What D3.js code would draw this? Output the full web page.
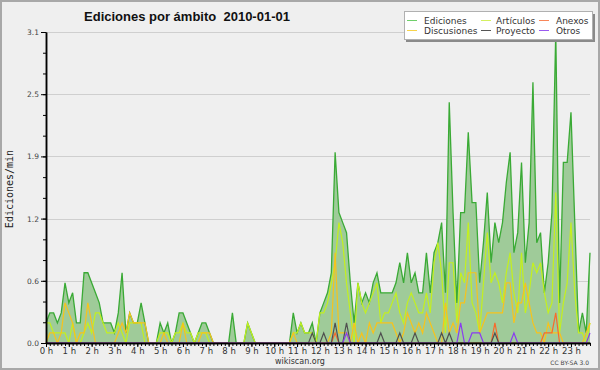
<!DOCTYPE html>
<html>
<head>
<meta charset="utf-8">
<script src="https://cdn.jsdelivr.net/npm/d3@7"></script>
<style>
  body { margin: 0; background: #efefef; }
  svg { display: block; }
</style>
</head>
<body>
<div id="chart"></div>
<script>
var width = 600,
    height = 370;

// 10-minute bins, 0h .. 23h50
var hourLabels = d3.range(24).map(function (h) { return h + " h"; });

var ediciones = [
    0.2,0.3,0.3,0.2,0.3,0.6,0.4,0.5,0.2,0.2,
    0.7,0.7,0.6,0.5,0.4,0.2,0.2,0.2,0.1,0.3,
    0.7,0.1,0.3,0.2,0.2,0.4,0.2,0,0,0,
    0.2,0.1,0.2,0,0.1,0.3,0.3,0.2,0.1,0,
    0.1,0.2,0.2,0.1,0,0,0,0,0,0.3,
    0,0,0,0.2,0.1,0,0,0,0,0,
    0,0,0,0,0,0.3,0.1,0.2,0.1,0.1,
    0.2,0,0.3,0.4,0.5,0.7,1.9,1.3,1.2,1.1,
    0.6,0.2,0.6,0.4,0.5,0.4,0.6,0.7,0.5,0.5,
    0.5,0.5,0.6,0.8,0.6,0.9,0.6,0.7,0.5,0.5,
    0.9,0.5,0.9,1.0,1.2,0.5,2.4,1.3,0.4,1.3,
    1.3,2.1,1.4,1.4,0.6,1.0,1.5,0.8,1.2,1.0,
    1.2,1.6,1.9,0.9,1.1,1.8,0.8,1.2,2.6,1.0,
    1.1,0.5,0.8,1.3,3.1,0.4,1.8,1.8,2.3,1.2,
    0.1,0.3,0.1,0.9
];

var articulos = [
    0.2,0.2,0.1,0.1,0.1,0.1,0,0.2,0,0,
    0.1,0.2,0.1,0.3,0.3,0.2,0.1,0.1,0.1,0.2,
    0.1,0,0.2,0.2,0.2,0.2,0,0,0,0,
    0.1,0.1,0.1,0,0.1,0.1,0.2,0.1,0.1,0,
    0.1,0.1,0.1,0,0,0,0,0,0,0,
    0,0,0,0.2,0.1,0,0,0,0,0,
    0,0,0,0,0,0.1,0.1,0.2,0.1,0.1,
    0.1,0,0.3,0.3,0.4,0.6,0.8,1.2,1.0,0.6,
    0.3,0,0.6,0.4,0.3,0.4,0.5,0.6,0.2,0.3,
    0.3,0.4,0.5,0.3,0.2,0.4,0.5,0.4,0.3,0.3,
    0.5,0.3,0.8,1.0,0.7,0.1,0.8,0.8,0.2,0.7,
    0.6,1.2,0.4,0.3,0.1,0.6,1.1,0.6,0.7,0.6,
    0.4,0.7,0.9,0.5,0.3,0.9,0.3,0.5,0.8,0.7,
    0.8,0.5,0.3,0.4,1.5,0.1,0.4,0.6,1.2,0.5,
    0.1,0.1,0,0.2
];

var discusiones = [
    0,0.1,0.1,0,0.1,0.4,0.3,0.2,0,0.1,
    0.1,0.4,0.2,0,0,0,0,0,0,0.1,
    0.2,0.1,0.3,0.2,0.2,0.2,0.2,0,0,0,
    0,0.1,0,0,0,0,0.2,0,0,0,
    0,0.1,0.1,0.1,0,0,0,0,0,0,
    0,0,0,0,0,0,0,0,0,0,
    0,0,0,0,0,0.1,0,0,0,0,
    0,0,0,0,0,0.1,0.9,0.1,0.1,0.1,
    0,0.2,0,0.1,0,0.2,0.1,0.2,0.2,0.2,
    0.2,0.2,0.1,0,0.1,0.3,0.2,0.1,0.2,0.1,
    0.3,0.2,0.1,0,0,0.4,0.1,0.2,0.1,0.4,
    0.4,0.7,0.7,0.7,0.1,0.2,0.3,0.3,0.3,0.3,
    0.3,0.6,0.6,0.2,0.4,0.4,0.6,0.4,0.2,0.1,
    0.1,0,0.2,0.1,0.1,0.1,0,0,0,0,
    0,0,0.1,0.2
];

// sparse series: bin index -> value, zero elsewhere
var anexosBins = [76, 118, 131, 132, 133, 134],
    anexosVals = [0.1, 0.2, 0.1, 0.1, 0.1, 0.3];
var proyectoBins = [70, 73, 76, 79, 88, 93, 97, 104, 106, 118],
    proyectoVals = [0.1, 0.1, 0.2, 0.2, 0.1, 0.1, 0.1, 0.1, 0.1, 0.1];
var otrosBins = [79, 109, 112, 113, 114, 123, 143],
    otrosVals = [0.1, 0.2, 0.1, 0.1, 0.1, 0.1, 0.1];

function sparse(bins, vals) {
    var out = d3.range(144).map(function () { return 0; });
    bins.forEach(function (b, i) { out[b] = vals[i]; });
    return out;
}

var anexos = sparse(anexosBins, anexosVals),
    proyecto = sparse(proyectoBins, proyectoVals),
    otros = sparse(otrosBins, otrosVals);

var yMax = 3.1;

var svg = d3.select("#chart")
    .append("svg")
    .attr("width", width)
    .attr("height", height);

svg.append("rect")
    .attr("x", 1).attr("y", 1)
    .attr("width", width - 2).attr("height", height - 2)
    .attr("fill", "#efefef")
    .attr("stroke", "#a8a8a8")
    .attr("stroke-width", 2);

var x = d3.scaleLinear().domain([0, 143]).range([46, 590]);
var y = d3.scaleLinear().domain([0, yMax]).range([343, 32]);

var majorY = d3.range(6).map(function (i) { return i * yMax / 5; });
var minorY = d3.range(16).map(function (i) { return i * yMax / 15; });

// grid
svg.append("g")
    .selectAll("line")
    .data(majorY.slice(1))
    .enter()
    .append("line")
    .attr("x1", 46).attr("x2", 590)
    .attr("y1", function (d) { return Math.round(y(d)) + 0.5; })
    .attr("y2", function (d) { return Math.round(y(d)) + 0.5; })
    .attr("stroke", "#cfcfcf")
    .attr("stroke-width", 1);

// Ediciones area
var area = d3.area()
    .x(function (d, i) { return x(i); })
    .y0(y(0))
    .y1(function (d) { return y(d); });

var line = d3.line()
    .x(function (d, i) { return x(i); })
    .y(function (d) { return y(d); });

svg.append("path")
    .datum(ediciones)
    .attr("d", area)
    .attr("fill", "#9fcb99");

svg.append("path")
    .datum(ediciones)
    .attr("d", line)
    .attr("fill", "none")
    .attr("stroke", "#3aaa35")
    .attr("stroke-width", 1.3);

var series = [
    { data: articulos, color: "#c4f01e" },
    { data: discusiones, color: "#f7c31c" },
    { data: anexos, color: "#f86a2c" },
    { data: proyecto, color: "#505050" },
    { data: otros, color: "#8a3cf0" }
];

series.forEach(function (s) {
    svg.append("path")
        .datum(s.data)
        .attr("d", line)
        .attr("fill", "none")
        .attr("stroke", s.color)
        .attr("stroke-width", 1.2);
});

// axes
var xMinor = svg.append("g")
    .attr("transform", "translate(0," + y(0) + ")")
    .call(d3.axisBottom(x)
        .tickValues(d3.range(0, 144))
        .tickSize(3)
        .tickSizeOuter(0)
        .tickFormat(""));

var xMajor = svg.append("g")
    .attr("transform", "translate(0," + y(0) + ")")
    .call(d3.axisBottom(x)
        .tickValues(d3.range(0, 144, 6))
        .tickSize(4)
        .tickSizeOuter(0)
        .tickPadding(1)
        .tickFormat(function (d) { return hourLabels[d / 6]; }));

[xMinor, xMajor].forEach(function (g) {
    g.select(".domain").attr("stroke", "#000").attr("stroke-width", 1.5);
    g.selectAll(".tick line").attr("stroke", "#000");
});
xMajor.selectAll("text")
    .attr("font-family", "DejaVu Sans")
    .attr("font-size", "8.5px")
    .attr("fill", "#333");

var yMinorAxis = svg.append("g")
    .attr("transform", "translate(46,0)")
    .call(d3.axisLeft(y)
        .tickValues(minorY)
        .tickSize(3)
        .tickSizeOuter(0)
        .tickFormat(""));

var yMajorAxis = svg.append("g")
    .attr("transform", "translate(46,0)")
    .call(d3.axisLeft(y)
        .tickValues(majorY)
        .tickSize(5)
        .tickSizeOuter(0)
        .tickPadding(2)
        .tickFormat(d3.format(".1f")));

[yMinorAxis, yMajorAxis].forEach(function (g) {
    g.select(".domain").attr("stroke", "#000").attr("stroke-width", 1.5);
    g.selectAll(".tick line").attr("stroke", "#000");
});
yMajorAxis.selectAll("text")
    .attr("font-family", "DejaVu Sans")
    .attr("font-size", "7.5px")
    .attr("fill", "#444");

// texts
svg.append("text")
    .attr("x", 187)
    .attr("y", 21)
    .attr("text-anchor", "middle")
    .attr("font-family", "Liberation Sans")
    .attr("font-weight", "bold")
    .attr("font-size", "13px")
    .attr("fill", "#111")
    .style("white-space", "pre")
    .text("Ediciones por ámbito  2010-01-01");

svg.append("text")
    .attr("transform", "translate(13,189) rotate(-90)")
    .attr("text-anchor", "middle")
    .attr("font-family", "DejaVu Sans Mono")
    .attr("font-size", "10px")
    .attr("fill", "#222")
    .text("Ediciones/min");

svg.append("text")
    .attr("x", 300)
    .attr("y", 364)
    .attr("text-anchor", "middle")
    .attr("font-family", "DejaVu Sans")
    .attr("font-size", "8px")
    .attr("fill", "#333")
    .text("wikiscan.org");

svg.append("text")
    .attr("x", 589)
    .attr("y", 365)
    .attr("text-anchor", "end")
    .attr("font-family", "DejaVu Sans")
    .attr("font-size", "6px")
    .attr("fill", "#444")
    .text("CC BY-SA 3.0");

// legend
var legendItems = [
    { name: "Ediciones", color: "#6fcf6a", col: 0, row: 0 },
    { name: "Discusiones", color: "#f7d34a", col: 0, row: 1 },
    { name: "Artículos", color: "#d4f060", col: 1, row: 0 },
    { name: "Proyecto", color: "#555", col: 1, row: 1 },
    { name: "Anexos", color: "#f8865a", col: 2, row: 0 },
    { name: "Otros", color: "#9a5af0", col: 2, row: 1 }
];
var colX = [407, 481, 539];

var legend = svg.append("g");
legend.append("rect")
    .attr("x", 406).attr("y", 14)
    .attr("width", 189).attr("height", 28)
    .attr("fill", "#8a8a8a");
legend.append("rect")
    .attr("x", 404.5).attr("y", 11.5)
    .attr("width", 188).attr("height", 28)
    .attr("fill", "#fff")
    .attr("stroke", "#b0b0b0");

var li = legend.selectAll("g.item")
    .data(legendItems)
    .enter()
    .append("g")
    .attr("class", "item")
    .attr("transform", function (d) {
        return "translate(" + colX[d.col] + "," + (20 + d.row * 10) + ")";
    });
li.append("line")
    .attr("x1", 0).attr("x2", 10)
    .attr("y1", 0.5).attr("y2", 0.5)
    .attr("stroke", function (d) { return d.color; })
    .attr("stroke-width", 1);
li.append("text")
    .attr("x", function (d) { return d.col === 1 ? 15 : 17; })
    .attr("y", 3.5)
    .attr("font-family", "DejaVu Sans")
    .attr("font-size", "9px")
    .attr("fill", "#333")
    .text(function (d) { return d.name; });
</script>
</body>
</html>
